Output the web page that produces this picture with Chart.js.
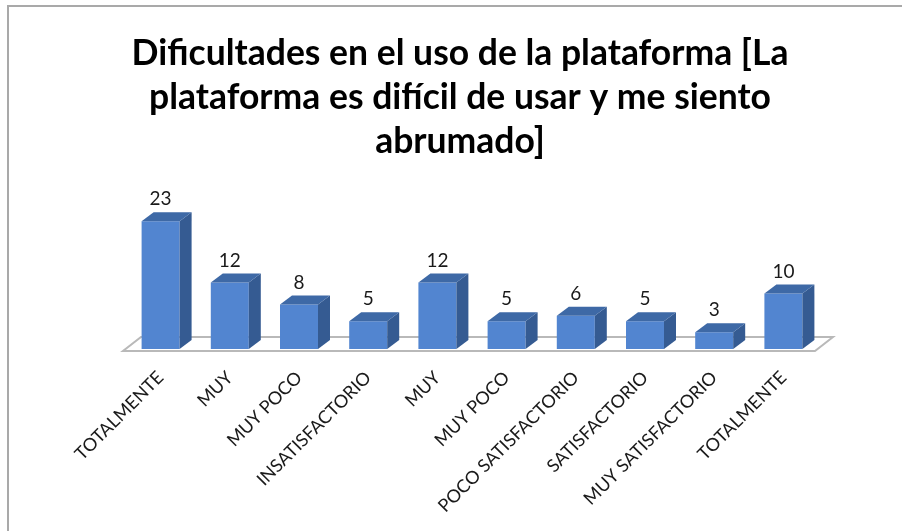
<!DOCTYPE html>
<html>
<head>
<meta charset="utf-8">
<style>
  html, body { margin: 0; padding: 0; background: #fff; overflow: hidden; }
  #frame { position: absolute; left: 7px; top: 5px; right: 0; bottom: 0; border-left: 2px solid #a9a9a9; border-top: 2px solid #a9a9a9; }
  #wrap { position: absolute; left: 0; top: 0; width: 902px; height: 531px; }
</style>
</head>
<body>
<div id="frame"></div>
<div id="wrap"><canvas id="myChart" width="902" height="531"></canvas></div>
<script src="https://cdn.jsdelivr.net/npm/chart.js@4"></script>
<script>
const titleLines = [
  'Dificultades en el uso de la plataforma [La',
  'plataforma es difícil de usar y me siento',
  'abrumado]'
];
const categories = [
  'TOTALMENTE', 'MUY', 'MUY POCO', 'INSATISFACTORIO', 'MUY',
  'MUY POCO', 'POCO SATISFACTORIO', 'SATISFACTORIO', 'MUY SATISFACTORIO', 'TOTALMENTE'
];
const values = [23, 12, 8, 5, 12, 5, 6, 5, 3, 10];

const depthX = 12;
const depthY = 9;

// floor and side faces of the bars, Chart.js has no 3D bars
const bars3d = {
  id: 'bars3d',
  beforeDatasetsDraw(chart) {
    const ctx = chart.ctx;
    const area = chart.chartArea;
    const y0 = chart.scales.y.getPixelForValue(0);
    ctx.save();
    ctx.strokeStyle = '#b9b9b9';
    ctx.lineWidth = 2;
    ctx.beginPath();
    ctx.moveTo(area.left - 3, y0 + 2);
    ctx.lineTo(area.right - 3, y0 + 2);
    ctx.lineTo(area.right + 15, y0 - 12);
    ctx.lineTo(area.left + 15, y0 - 12);
    ctx.closePath();
    ctx.stroke();
    ctx.restore();
  },
  afterDatasetsDraw(chart) {
    const ctx = chart.ctx;
    ctx.save();
    chart.getDatasetMeta(0).data.forEach((bar, i) => {
      const right = bar.x + bar.width / 2;
      const left = bar.x - bar.width / 2;
      // side
      ctx.fillStyle = '#355b92';
      ctx.beginPath();
      ctx.moveTo(right, bar.y);
      ctx.lineTo(right + depthX, bar.y - depthY);
      ctx.lineTo(right + depthX, bar.base - depthY);
      ctx.lineTo(right, bar.base);
      ctx.closePath();
      ctx.fill();
      // top
      ctx.fillStyle = '#3e69a6';
      ctx.beginPath();
      ctx.moveTo(left, bar.y);
      ctx.lineTo(left + depthX, bar.y - depthY);
      ctx.lineTo(right + depthX, bar.y - depthY);
      ctx.lineTo(right, bar.y);
      ctx.closePath();
      ctx.fill();
      // value label
      ctx.fillStyle = '#1a1a1a';
      ctx.font = '19px Lato';
      ctx.textAlign = 'center';
      ctx.textBaseline = 'middle';
      ctx.fillText(values[i], bar.x, bar.y - 22);
    });
    ctx.restore();
  }
};

new Chart(document.getElementById('myChart').getContext('2d'), {
  type: 'bar',
  data: {
    labels: categories,
    datasets: [{
      data: values,
      backgroundColor: '#5285d0',
      borderWidth: 0,
      barPercentage: 1,
      categoryPercentage: 38 / 69.2
    }]
  },
  options: {
    responsive: false,
    animation: false,
    layout: { padding: { left: 18 } },
    plugins: {
      legend: { display: false },
      tooltip: { enabled: false },
      title: {
        display: true,
        text: titleLines,
        color: '#000',
        font: { family: 'Lato', size: 35.5, weight: 'bold', lineHeight: 44 / 35.5 },
        padding: { top: 32, bottom: 29.6 }
      }
    },
    scales: {
      x: {
        grid: { display: false },
        border: { display: false },
        ticks: {
          autoSkip: false,
          minRotation: 45,
          maxRotation: 45,
          color: '#1a1a1a',
          font: { family: 'Lato', size: 18 },
          padding: 10
        },
        afterFit(scale) {
          scale.height = 182;
          scale.paddingLeft = 0;
          scale.paddingRight = 84;
        }
      },
      y: {
        min: 0,
        max: 28,
        grid: { display: false },
        border: { display: false },
        ticks: { display: false },
        afterFit(scale) { scale.width = 108; }
      }
    }
  },
  plugins: [bars3d]
});
</script>
</body>
</html>
